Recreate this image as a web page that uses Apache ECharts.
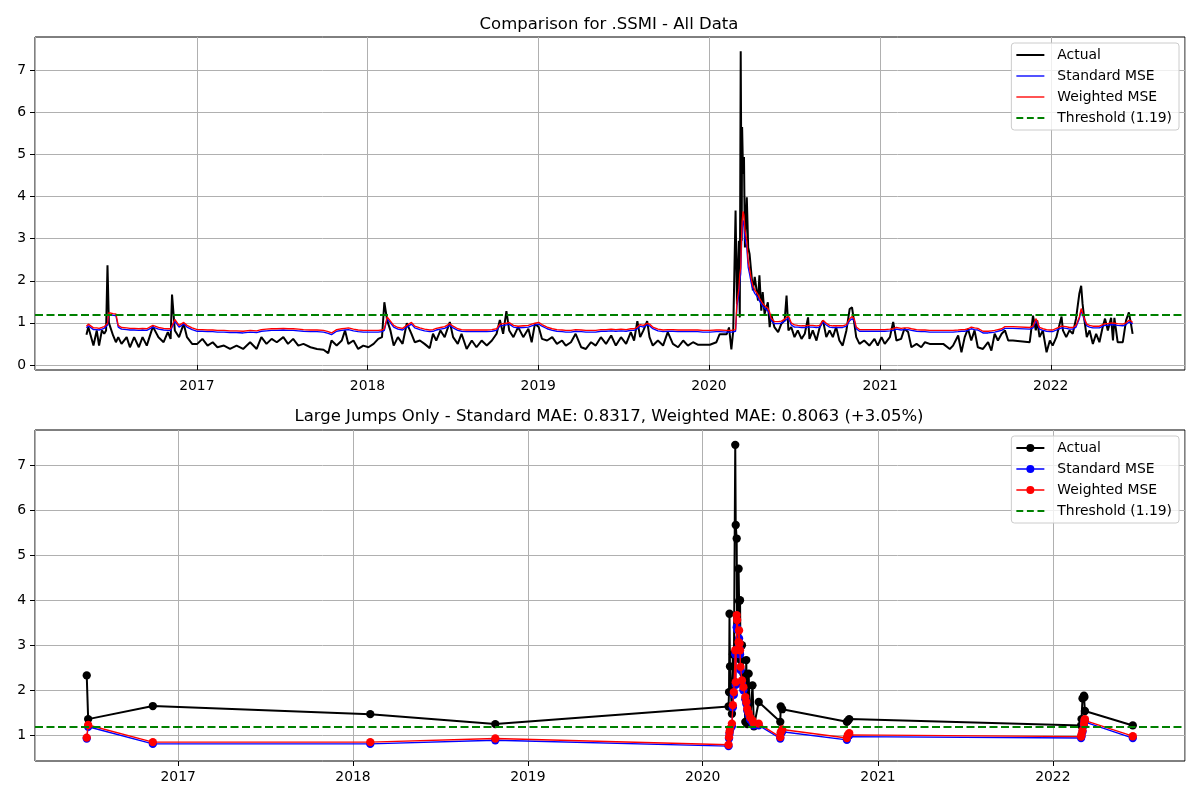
<!DOCTYPE html>
<html><head><meta charset="utf-8">
<script src="https://cdn.jsdelivr.net/npm/echarts@6/dist/echarts.min.js"></script>
<style>html,body{margin:0;padding:0;background:#fff}#c{width:1200px;height:800px}</style>
</head><body><div id="c"></div>
<script>
const threshold = 1.19;
const topTitle = 'Comparison for .SSMI - All Data';
const bottomTitle = 'Large Jumps Only - Standard MAE: 0.8317, Weighted MAE: 0.8063 (+3.05%)';
const seriesNames = ['Actual', 'Standard MSE', 'Weighted MSE', 'Threshold (1.19)'];
const topYTicks = [0, 1, 2, 3, 4, 5, 6, 7];
const bottomYTicks = [1, 2, 3, 4, 5, 6, 7];

const topDates = [
'2016-05-10','2016-05-14','2016-05-25','2016-06-01','2016-06-06','2016-06-12','2016-06-17','2016-06-21','2016-06-24','2016-06-27','2016-07-06','2016-07-12','2016-07-17','2016-07-24','2016-08-04','2016-08-11','2016-08-20','2016-08-30','2016-09-07','2016-09-16','2016-09-29','2016-10-11','2016-10-22','2016-10-31','2016-11-06','2016-11-09','2016-11-15','2016-11-24','2016-12-04','2016-12-11','2016-12-22',
'2017-01-02','2017-01-13','2017-01-24','2017-02-04','2017-02-14','2017-02-28','2017-03-13','2017-03-27','2017-04-10','2017-04-25','2017-05-09','2017-05-19','2017-05-30','2017-06-10','2017-06-21','2017-07-05','2017-07-15','2017-07-26','2017-08-06','2017-08-17','2017-09-01','2017-09-15','2017-09-29','2017-10-09','2017-10-16','2017-10-27','2017-11-07','2017-11-14','2017-11-21','2017-12-02','2017-12-12','2017-12-23',
'2018-01-03','2018-01-14','2018-01-24','2018-02-01','2018-02-06','2018-02-12','2018-02-19','2018-02-26','2018-03-07','2018-03-17','2018-03-26','2018-04-05','2018-04-12','2018-04-23','2018-05-03','2018-05-14','2018-05-21','2018-05-28','2018-06-06','2018-06-15','2018-06-26','2018-07-03','2018-07-13','2018-07-21','2018-08-01','2018-08-12','2018-08-22','2018-09-02','2018-09-13','2018-09-24','2018-10-04','2018-10-11','2018-10-18','2018-10-25','2018-10-31','2018-11-09','2018-11-19','2018-11-30','2018-12-11','2018-12-18','2018-12-25',
'2019-01-02','2019-01-09','2019-01-20','2019-01-31','2019-02-10','2019-02-21','2019-03-01','2019-03-12','2019-03-22','2019-04-03','2019-04-13','2019-04-24','2019-05-04','2019-05-15','2019-05-26','2019-06-06','2019-06-16','2019-06-27','2019-07-08','2019-07-18','2019-07-25','2019-08-01','2019-08-07','2019-08-14','2019-08-22','2019-08-27','2019-09-03','2019-09-14','2019-09-25','2019-10-05','2019-10-16','2019-10-27','2019-11-07','2019-11-17','2019-11-28','2019-12-08','2019-12-19',
'2020-01-03','2020-01-17','2020-01-24','2020-02-08','2020-02-13','2020-02-18','2020-02-22','2020-02-27','2020-03-01','2020-03-05','2020-03-07','2020-03-09','2020-03-11','2020-03-12','2020-03-14','2020-03-16','2020-03-18','2020-03-22','2020-03-25','2020-03-28','2020-04-01','2020-04-04','2020-04-08','2020-04-15','2020-04-18','2020-04-22','2020-04-25','2020-04-29','2020-05-06','2020-05-10','2020-05-13','2020-05-20','2020-05-28','2020-06-04','2020-06-11','2020-06-15','2020-06-19','2020-06-25','2020-07-02','2020-07-09','2020-07-17','2020-07-24','2020-07-31','2020-08-03','2020-08-10','2020-08-18','2020-08-25','2020-09-01','2020-09-08','2020-09-15','2020-09-22','2020-09-29','2020-10-06','2020-10-13','2020-10-21','2020-10-28','2020-11-02','2020-11-07','2020-11-11','2020-11-18','2020-11-28','2020-12-09','2020-12-20','2020-12-27',
'2021-01-04','2021-01-11','2021-01-22','2021-01-29','2021-02-05','2021-02-15','2021-02-22','2021-03-02','2021-03-09','2021-03-20','2021-03-30','2021-04-07','2021-04-17','2021-05-16','2021-05-30','2021-06-06','2021-06-17','2021-06-24','2021-07-01','2021-07-08','2021-07-15','2021-07-22','2021-07-29','2021-08-09','2021-08-20','2021-08-27','2021-09-03','2021-09-10','2021-09-18','2021-09-25','2021-10-02','2021-10-12','2021-11-17','2021-11-24','2021-11-30','2021-12-03','2021-12-08','2021-12-15','2021-12-23','2021-12-30',
'2022-01-05','2022-01-13','2022-01-24','2022-01-27','2022-02-03','2022-02-10','2022-02-17','2022-02-24','2022-03-03','2022-03-07','2022-03-10','2022-03-14','2022-03-19','2022-03-25','2022-04-01','2022-04-08','2022-04-15','2022-04-22','2022-04-27','2022-05-03','2022-05-10','2022-05-14','2022-05-17','2022-05-24','2022-06-04','2022-06-11','2022-06-17','2022-06-22','2022-06-25'
];
const topActual = [
0.72,0.90,0.46,0.82,0.46,0.82,0.74,0.82,2.37,1.00,0.70,0.54,0.66,0.50,0.66,0.42,0.66,0.42,0.66,0.46,0.91,0.66,0.54,0.78,0.62,1.67,0.82,0.66,0.98,0.66,0.50,
0.50,0.62,0.46,0.54,0.42,0.46,0.38,0.46,0.38,0.54,0.38,0.66,0.50,0.62,0.54,0.66,0.50,0.62,0.46,0.50,0.42,0.38,0.36,0.28,0.58,0.46,0.58,0.82,0.50,0.58,0.38,0.46,
0.42,0.50,0.62,0.66,1.49,1.06,0.82,0.46,0.66,0.50,0.99,0.74,0.54,0.58,0.50,0.40,0.74,0.58,0.82,0.66,1.02,0.66,0.50,0.74,0.38,0.58,0.42,0.58,0.46,0.58,0.74,1.07,0.74,1.28,0.82,0.66,0.90,0.66,0.86,0.54,0.98,
0.90,0.62,0.58,0.66,0.50,0.58,0.46,0.54,0.74,0.42,0.38,0.54,0.46,0.66,0.50,0.70,0.46,0.66,0.50,0.78,0.58,1.04,0.66,0.82,1.04,0.66,0.46,0.58,0.46,0.78,0.50,0.42,0.58,0.46,0.54,0.48,0.48,
0.48,0.54,0.73,0.73,0.89,0.37,0.81,3.67,1.44,2.95,1.13,7.45,2.95,5.65,4.54,4.94,2.79,3.98,2.79,2.63,2.63,1.77,2.09,1.53,2.13,1.29,1.73,1.21,1.49,0.90,1.21,0.90,0.78,0.98,1.06,1.65,0.82,0.90,0.66,0.82,0.62,0.74,1.13,0.62,0.82,0.58,0.90,1.06,0.66,0.82,0.66,0.90,0.58,0.46,0.82,1.33,1.37,0.98,0.66,0.50,0.58,0.46,0.62,0.46,
0.66,0.50,0.66,1.02,0.58,0.62,0.86,0.78,0.42,0.50,0.42,0.54,0.50,0.50,0.38,0.46,0.70,0.30,0.66,0.86,0.58,0.82,0.42,0.38,0.54,0.34,0.74,0.58,0.74,0.82,0.58,0.58,0.54,1.17,0.82,1.06,0.66,0.82,0.30,0.58,
0.46,0.66,1.15,0.82,0.66,0.82,0.74,1.10,1.69,1.88,1.45,1.06,0.66,0.82,0.50,0.74,0.54,0.90,1.10,0.82,1.12,0.58,1.12,0.54,0.54,1.06,1.25,0.94,0.74
];
const topStandard = [
0.88,0.93,0.84,0.84,0.83,0.85,0.87,0.89,0.95,1.20,1.18,1.17,0.90,0.85,0.84,0.83,0.83,0.82,0.83,0.82,0.90,0.85,0.83,0.82,0.82,0.84,1.04,0.90,0.97,0.90,0.84,
0.80,0.80,0.79,0.79,0.78,0.78,0.77,0.77,0.76,0.78,0.77,0.80,0.81,0.82,0.82,0.83,0.82,0.82,0.81,0.80,0.79,0.79,0.78,0.75,0.72,0.80,0.82,0.83,0.84,0.81,0.79,0.78,
0.78,0.78,0.78,0.79,0.82,1.10,1.00,0.90,0.85,0.83,0.90,0.97,0.88,0.84,0.81,0.79,0.80,0.83,0.85,0.87,0.94,0.88,0.82,0.80,0.79,0.79,0.79,0.79,0.79,0.80,0.82,0.93,0.94,0.95,0.97,0.90,0.88,0.89,0.90,0.93,0.95,
0.97,0.92,0.86,0.82,0.80,0.79,0.78,0.78,0.80,0.79,0.78,0.78,0.78,0.80,0.80,0.81,0.80,0.81,0.80,0.82,0.82,0.86,0.92,0.90,0.95,0.93,0.86,0.81,0.79,0.80,0.80,0.79,0.79,0.79,0.79,0.79,0.78,
0.78,0.79,0.79,0.78,0.78,0.78,0.78,0.80,1.40,1.68,2.00,2.16,2.95,3.20,3.43,3.35,3.00,2.79,2.32,2.16,1.92,1.80,1.70,1.60,1.52,1.49,1.40,1.35,1.29,1.20,1.06,0.98,0.98,0.99,1.04,1.06,1.12,0.95,0.90,0.90,0.89,0.89,0.90,0.92,0.90,0.89,0.90,1.02,0.95,0.90,0.89,0.89,0.89,0.89,0.92,1.05,1.10,1.05,0.86,0.80,0.80,0.80,0.80,0.80,
0.80,0.80,0.81,0.82,0.85,0.83,0.84,0.84,0.82,0.80,0.79,0.79,0.78,0.78,0.78,0.78,0.79,0.80,0.80,0.82,0.86,0.84,0.83,0.76,0.76,0.77,0.78,0.80,0.82,0.87,0.87,0.87,0.85,0.88,1.06,1.00,0.85,0.82,0.80,0.79,
0.79,0.83,0.88,0.90,0.87,0.85,0.85,0.90,1.10,1.29,1.25,1.06,0.93,0.90,0.88,0.88,0.88,0.92,0.94,0.94,0.96,0.95,0.95,0.94,0.93,0.96,1.02,1.00,0.97
];
const topWeighted = [
0.92,0.97,0.88,0.88,0.87,0.89,0.91,0.93,0.99,1.24,1.22,1.21,0.94,0.89,0.88,0.87,0.87,0.86,0.87,0.86,0.94,0.89,0.87,0.86,0.86,0.88,1.08,0.94,1.01,0.94,0.88,
0.84,0.84,0.83,0.83,0.82,0.82,0.81,0.81,0.80,0.82,0.81,0.84,0.85,0.86,0.86,0.87,0.86,0.86,0.85,0.84,0.83,0.83,0.82,0.79,0.76,0.84,0.86,0.87,0.88,0.85,0.83,0.82,
0.82,0.82,0.82,0.83,0.86,1.14,1.04,0.94,0.89,0.87,0.94,1.01,0.92,0.88,0.85,0.83,0.84,0.87,0.89,0.91,0.98,0.92,0.86,0.84,0.83,0.83,0.83,0.83,0.83,0.84,0.86,0.97,0.98,0.99,1.01,0.94,0.92,0.93,0.94,0.97,0.99,
1.01,0.96,0.90,0.86,0.84,0.83,0.82,0.82,0.84,0.83,0.82,0.82,0.82,0.84,0.84,0.85,0.84,0.85,0.84,0.86,0.86,0.90,0.96,0.94,0.99,0.97,0.90,0.85,0.83,0.84,0.84,0.83,0.83,0.83,0.83,0.83,0.82,
0.82,0.83,0.83,0.82,0.82,0.82,0.82,0.84,1.50,1.80,2.15,2.30,3.10,3.40,3.65,3.55,3.20,2.95,2.45,2.28,2.02,1.88,1.78,1.67,1.59,1.55,1.46,1.41,1.35,1.25,1.11,1.03,1.03,1.04,1.09,1.11,1.17,1.00,0.95,0.94,0.93,0.93,0.94,0.96,0.94,0.93,0.94,1.06,0.99,0.94,0.93,0.93,0.93,0.93,0.96,1.10,1.15,1.09,0.90,0.84,0.84,0.84,0.84,0.84,
0.84,0.84,0.85,0.86,0.89,0.87,0.88,0.88,0.86,0.84,0.83,0.83,0.82,0.82,0.82,0.82,0.83,0.84,0.84,0.86,0.90,0.88,0.87,0.80,0.80,0.81,0.82,0.84,0.86,0.91,0.91,0.91,0.89,0.92,1.10,1.04,0.89,0.86,0.84,0.83,
0.83,0.87,0.92,0.94,0.91,0.89,0.89,0.94,1.14,1.34,1.30,1.10,0.97,0.94,0.92,0.92,0.92,0.96,0.98,0.98,1.00,0.99,0.99,0.98,0.97,1.00,1.06,1.04,1.01
];

const jumpDates = [
'2016-06-24','2016-06-27','2016-11-09','2018-02-06','2018-10-25',
'2020-02-24','2020-02-25','2020-02-26','2020-02-27','2020-03-02','2020-03-04','2020-03-06','2020-03-09','2020-03-10','2020-03-12','2020-03-13','2020-03-16','2020-03-17','2020-03-18','2020-03-19','2020-03-20','2020-03-23','2020-03-26','2020-03-30','2020-04-01','2020-04-03','2020-04-06','2020-04-09','2020-04-14','2020-04-17','2020-04-27',
'2020-06-11','2020-06-12','2020-06-15','2020-10-28','2020-10-30','2020-11-02',
'2022-03-01','2022-03-02','2022-03-04','2022-03-07','2022-03-08','2022-03-09','2022-06-17'
];
const jumpActual = [
2.33,1.36,1.65,1.47,1.25,
1.64,1.96,3.70,2.53,1.48,2.80,2.20,7.45,5.67,5.37,2.90,4.70,3.98,2.80,4.00,2.67,3.00,2.37,1.30,2.67,1.25,2.37,1.30,2.11,1.20,1.74,
1.30,1.64,1.58,1.30,1.32,1.36,
1.22,1.36,1.82,1.88,1.85,1.54,1.22
];
const jumpStandard = [
0.93,1.19,0.81,0.81,0.89,
0.76,0.93,1.03,1.11,1.20,1.62,1.90,2.80,2.12,3.40,3.35,2.95,3.15,2.92,2.80,2.45,2.15,2.00,1.80,1.70,1.55,1.45,1.35,1.28,1.22,1.22,
0.93,1.03,1.08,0.90,0.97,1.00,
0.94,0.98,1.08,1.22,1.30,1.33,0.94
];
const jumpWeighted = [
0.95,1.23,0.85,0.85,0.93,
0.79,0.96,1.07,1.15,1.26,1.67,1.96,2.89,2.18,3.67,3.56,3.07,3.33,3.04,2.89,2.52,2.22,2.07,1.85,1.74,1.59,1.50,1.40,1.33,1.26,1.26,
0.96,1.07,1.13,0.94,1.01,1.05,
0.97,1.02,1.11,1.25,1.33,1.36,0.98
];

const FONT = 'DejaVu Sans';
const YEAR_MS = 365.25 * 24 * 3600 * 1000;
const zip = (d, v) => d.map((x, i) => [x, v[i]]);

function xAxisCfg(gi, min, max) {
  return {
    type: 'time', gridIndex: gi, min: min, max: max,
    minInterval: YEAR_MS, maxInterval: YEAR_MS, splitNumber: 7,
    axisLine: { show: false },
    axisTick: { show: true, length: 5, lineStyle: { color: '#000', width: 1 } },
    axisLabel: {
      color: '#000', fontSize: 13.9, fontFamily: FONT, margin: 9, hideOverlap: false,
      showMinLabel: false, showMaxLabel: false,
      formatter: function (v) { const d = new Date(v); return (d.getMonth() === 0 && d.getDate() === 1) ? String(d.getFullYear()) : ''; }
    },
    splitLine: { show: true, lineStyle: { color: '#b0b0b0', width: 1 } }
  };
}
function yAxisCfg(gi, min, max, split, ticks) {
  return {
    type: 'value', gridIndex: gi, min: min, max: max, splitNumber: split,
    axisLine: { show: false },
    axisTick: { show: true, length: 5, lineStyle: { color: '#000', width: 1 }, customValues: ticks },
    axisLabel: {
      color: '#000', fontSize: 13.9, fontFamily: FONT, margin: 9, customValues: ticks,
      formatter: function (v) { return Math.abs(v - Math.round(v)) < 1e-6 ? String(Math.round(v)) : ''; }
    },
    splitLine: { show: true, lineStyle: { color: '#b0b0b0', width: 1 } }
  };
}
const ICON_THICK = 'path://M0,0H28V2H0Z';
const ICON_THIN = 'path://M0,0H28V1.35H0Z';
const ICON_DASH = 'path://M0,0H6.8V2H0Z M10.4,0H17.2V2H10.4Z M20.8,0H27.6V2H20.8Z';
const ICON_MK_THICK = 'path://M0,3H28V5H0Z M14,0A4,4,0,1,1,14,8A4,4,0,1,1,14,0Z';
const ICON_MK_THIN = 'path://M0,3.3H28V4.7H0Z M14,0A4,4,0,1,1,14,8A4,4,0,1,1,14,0Z';
const COLORS = ['#000000', '#0000ff', '#ff0000', '#008000'];

function legendCfg(top, icons) {
  return {
    top: top, right: 21, orient: 'vertical', selectedMode: false,
    itemWidth: 28, itemHeight: 14, itemGap: 7, padding: [5, 7, 5, 5],
    backgroundColor: 'rgba(255,255,255,0.8)', borderColor: '#cccccc', borderWidth: 1, borderRadius: 3,
    textStyle: { color: '#000', fontSize: 13.9, fontFamily: FONT, padding: [0, 0, 0, 8] },
    data: seriesNames.map((n, i) => ({ name: n, icon: icons[i], itemStyle: { color: COLORS[i] } }))
  };
}
function thresholdSeries(xi) {
  return {
    name: seriesNames[3], type: 'line', xAxisIndex: xi, yAxisIndex: xi, data: [], symbol: 'none',
    lineStyle: { color: COLORS[3], type: [8, 3.5], width: 2 }, itemStyle: { color: COLORS[3] },
    markLine: { silent: true, symbol: 'none', label: { show: false }, animation: false,
      lineStyle: { color: COLORS[3], type: [8, 3.5], width: 2 }, data: [{ yAxis: threshold }] },
    z: 5
  };
}

const chart = echarts.init(document.getElementById('c'), null, { renderer: 'canvas' });
chart.setOption({
  animation: false,
  backgroundColor: '#ffffff',
  title: [
    { text: topTitle, left: 604, top: 11, textAlign: 'center', textStyle: { fontFamily: FONT, fontSize: 16.5, fontWeight: 'normal', color: '#000' } },
    { text: bottomTitle, left: 604, top: 403, textAlign: 'center', textStyle: { fontFamily: FONT, fontSize: 16.5, fontWeight: 'normal', color: '#000' } }
  ],
  grid: [
    { left: 35, right: 15, top: 37, height: 333, show: true, borderColor: '#000', borderWidth: 1, backgroundColor: 'transparent' },
    { left: 35, right: 15, top: 430, height: 331, show: true, borderColor: '#000', borderWidth: 1, backgroundColor: 'transparent' }
  ],
  legend: [
    legendCfg(43, [ICON_THICK, ICON_THIN, ICON_THIN, ICON_DASH]),
    legendCfg(436, [ICON_MK_THICK, ICON_MK_THIN, ICON_MK_THIN, ICON_DASH])
  ],
  xAxis: [xAxisCfg(0, '2016-01-21', '2022-10-15'), xAxisCfg(1, '2016-03-08', '2022-10-04')],
  yAxis: [yAxisCfg(0, -0.12, 7.79, 8, topYTicks), yAxisCfg(1, 0.43, 7.78, 7, bottomYTicks)],
  series: [
    { name: seriesNames[0], type: 'line', xAxisIndex: 0, yAxisIndex: 0, data: zip(topDates, topActual), symbol: 'none', lineStyle: { color: COLORS[0], width: 2 }, itemStyle: { color: COLORS[0] }, z: 2 },
    { name: seriesNames[1], type: 'line', xAxisIndex: 0, yAxisIndex: 0, data: zip(topDates, topStandard), symbol: 'none', lineStyle: { color: COLORS[1], width: 1.35 }, itemStyle: { color: COLORS[1] }, z: 3 },
    { name: seriesNames[2], type: 'line', xAxisIndex: 0, yAxisIndex: 0, data: zip(topDates, topWeighted), symbol: 'none', lineStyle: { color: COLORS[2], width: 1.35 }, itemStyle: { color: COLORS[2] }, z: 4 },
    thresholdSeries(0),
    { name: seriesNames[0], type: 'line', xAxisIndex: 1, yAxisIndex: 1, data: zip(jumpDates, jumpActual), symbol: 'circle', symbolSize: 8.3, showAllSymbol: true, lineStyle: { color: COLORS[0], width: 2 }, itemStyle: { color: COLORS[0] }, z: 2 },
    { name: seriesNames[1], type: 'line', xAxisIndex: 1, yAxisIndex: 1, data: zip(jumpDates, jumpStandard), symbol: 'circle', symbolSize: 8.3, showAllSymbol: true, lineStyle: { color: COLORS[1], width: 1.35 }, itemStyle: { color: COLORS[1] }, z: 3 },
    { name: seriesNames[2], type: 'line', xAxisIndex: 1, yAxisIndex: 1, data: zip(jumpDates, jumpWeighted), symbol: 'circle', symbolSize: 8.3, showAllSymbol: true, lineStyle: { color: COLORS[2], width: 1.35 }, itemStyle: { color: COLORS[2] }, z: 4 },
    thresholdSeries(1)
  ]
});
</script></body></html>
